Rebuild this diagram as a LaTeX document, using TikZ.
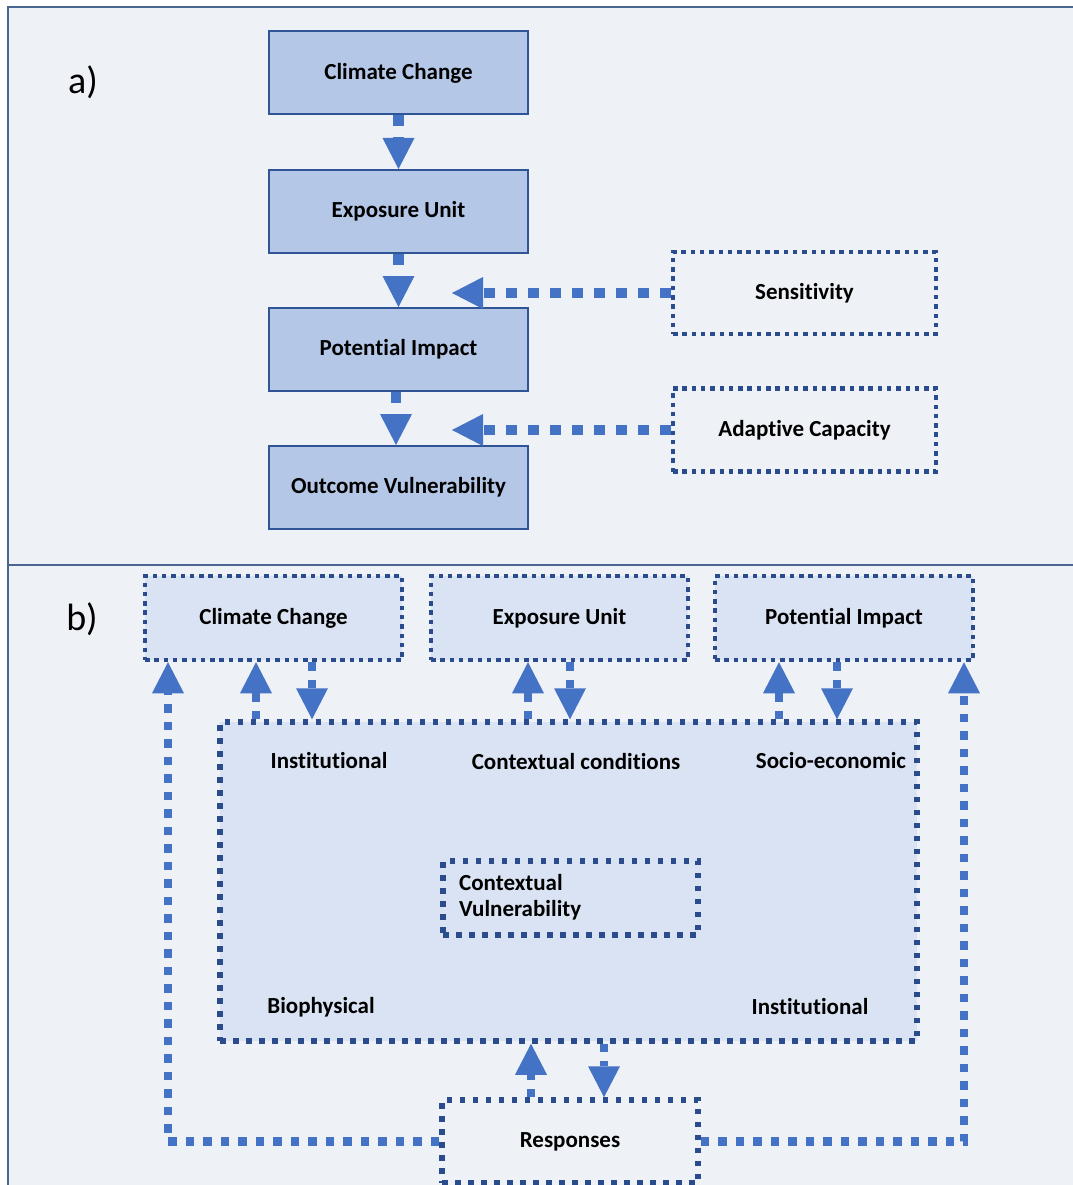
\documentclass[tikz,border=0pt]{standalone}
\usepackage{fontspec}
\setmainfont{Carlito}[Ligatures={NoCommon}]
\usetikzlibrary{arrows.meta}
\definecolor{panelbg}{HTML}{EEF2F6}
\definecolor{panelline}{HTML}{4A6590}
\definecolor{solidfill}{HTML}{B4C7E7}
\definecolor{solidline}{HTML}{2F5597}
\definecolor{lightfill}{HTML}{DAE3F3}
\definecolor{dotline}{HTML}{2B4C8C}
\definecolor{arrowcol}{HTML}{4472C4}
\begin{document}
\begin{tikzpicture}[x=1pt,y=-1pt,
  boxtext/.style={font=\bfseries\fontsize{23}{26}\selectfont, text=black},
  solidbox/.style={boxtext, draw=solidline, line width=2pt, fill=solidfill, minimum width=259pt, minimum height=83pt, inner sep=0pt},
  smalldot/.style={boxtext, draw=dotline, line width=4.5pt, dash pattern=on 4.5pt off 4.8pt, inner sep=0pt},
  bigdot/.style={boxtext, draw=dotline, line width=5.5pt, dash pattern=on 5.5pt off 7.5pt, inner sep=0pt},
  lbl/.style={boxtext, inner sep=0pt},
  shaftA/.style={draw=arrowcol, line width=10.5pt, dash pattern=on 10.5pt off 11.5pt, -{Triangle[length=31pt,width=32pt,line width=0pt]}},
  shaftB/.style={draw=arrowcol, line width=8.5pt, dash pattern=on 8.5pt off 9pt, -{Triangle[length=31pt,width=32pt,line width=0pt]}},
  panellbl/.style={font=\fontsize{38}{44}\selectfont, inner sep=0pt}
]
\useasboundingbox (0,0) rectangle (1072,1185);
\fill[white] (0,0) rectangle (1072,1185);
% panels
\draw[panelline, line width=2.5pt, fill=panelbg] (8,565) rectangle (1095,1210);
\draw[panelline, line width=2.5pt, fill=panelbg] (8,7) rectangle (1095,565);
\node[panellbl] (la) at (83,82) {a)};
\node[panellbl] (lb) at (82,619) {b)};

% ---------- panel a ----------
\node[solidbox] (cc) at (398.5,73) {Climate Change};
\node[solidbox] (eu) at (398.5,211.5) {Exposure Unit};
\node[solidbox] (pi) at (398.5,349.5) {Potential Impact};
\node[solidbox] (ov) at (398.5,487.5) {Outcome Vulnerability};
\node[smalldot, minimum width=263pt, minimum height=82pt] (sens) at (804.5,293) {Sensitivity};
\node[smalldot, minimum width=263pt, minimum height=83pt] (adapt) at (804.5,430) {Adaptive Capacity};
\coordinate (sensTip) at (452,293);
\coordinate (adaptTip) at (452,430);
\coordinate (xa) at (396,0);

\draw[shaftA] (cc.south) -- (eu.north);
\draw[shaftA] (eu.south) -- (pi.north);
\draw[shaftA] (pi.south -| xa) -- (ov.north -| xa);
\draw[shaftA] (sens.west) -- (sensTip);
\draw[shaftA] (adapt.west) -- (adaptTip);

% ---------- panel b ----------
\node[smalldot, fill=lightfill, minimum width=257pt, minimum height=84pt] (cc2) at (273.5,618) {Climate Change};
\node[smalldot, fill=lightfill, minimum width=257pt, minimum height=84pt] (eu2) at (559.5,618) {Exposure Unit};
\node[smalldot, fill=lightfill, minimum width=258pt, minimum height=84pt] (pi2) at (844,618) {Potential Impact};
\node[bigdot, fill=lightfill, minimum width=697pt, minimum height=319pt] (big) at (568.5,881.5) {};
\node[bigdot, fill=lightfill, minimum width=255pt, minimum height=74pt] (cv) at (570.5,898) {};
\node[lbl, anchor=west, align=left] (cvt) at (459,897) {Contextual\\Vulnerability};
\node[bigdot, fill=panelbg, minimum width=256pt, minimum height=83pt] (resp) at (570,1141.5) {Responses};

\node[lbl] (t1) at (329,761) {Institutional};
\node[lbl] (t2) at (576,762) {Contextual conditions};
\node[lbl] (t3) at (831,761) {Socio-economic};
\node[lbl] (t4) at (321,1007) {Biophysical};
\node[lbl] (t5) at (810,1007) {Institutional};

\coordinate (x168) at (168,0);
\coordinate (x256) at (256,0);
\coordinate (x312) at (312,0);
\coordinate (x528) at (528,0);
\coordinate (x570) at (570,0);
\coordinate (x779) at (779,0);
\coordinate (x837) at (837,0);
\coordinate (x531) at (531,0);
\coordinate (x604) at (604,0);
\coordinate (x964) at (964,0);

\draw[shaftB] (big.north -| x256) -- (cc2.south -| x256);
\draw[shaftB] (cc2.south -| x312) -- (big.north -| x312);
\draw[shaftB] (big.north -| x528) -- (eu2.south -| x528);
\draw[shaftB] (eu2.south -| x570) -- (big.north -| x570);
\draw[shaftB] (big.north -| x779) -- (pi2.south -| x779);
\draw[shaftB] (pi2.south -| x837) -- (big.north -| x837);
\draw[shaftB] (resp.north -| x531) -- (big.south -| x531);
\draw[shaftB] (big.south -| x604) -- (resp.north -| x604);
\draw[shaftB] (resp.west) -| (cc2.south -| x168);
\draw[shaftB] (resp.east) -| (pi2.south -| x964);
\end{tikzpicture}
\end{document}
